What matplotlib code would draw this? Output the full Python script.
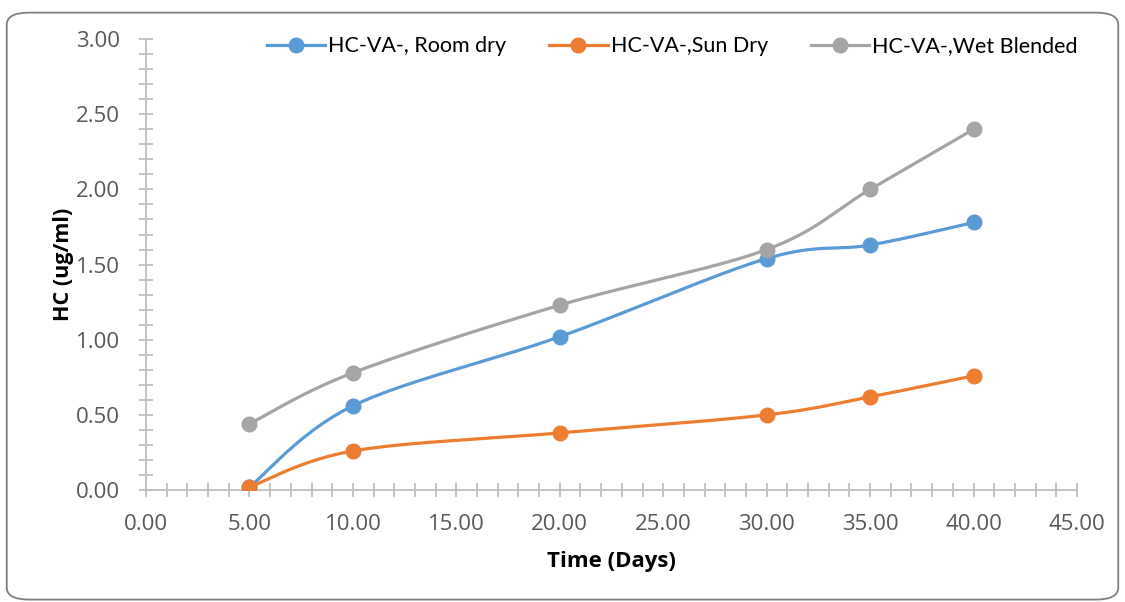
#!/usr/bin/env python3
import numpy as np
import matplotlib
matplotlib.use("Agg")
import matplotlib.pyplot as plt
from matplotlib.patches import FancyBboxPatch
from matplotlib.ticker import MultipleLocator, FormatStrFormatter

days = [5, 10, 20, 30, 35, 40]
room_dry = [0.02, 0.56, 1.02, 1.54, 1.63, 1.78]
sun_dry = [0.02, 0.26, 0.38, 0.50, 0.62, 0.76]
wet_blended = [0.44, 0.78, 1.23, 1.60, 2.00, 2.40]

series = [
    ("HC-VA-, Room dry", room_dry, "#5B9BD5"),
    ("HC-VA-,Sun Dry", sun_dry, "#ED7D31"),
    ("HC-VA-,Wet Blended", wet_blended, "#A5A5A5"),
]

plt.rcParams["font.family"] = ["Open Sans", "DejaVu Sans"]


def smooth_curve(ax, xs, ys, n=40):
    # spreadsheet-style smoothing: cubic bezier with control points at 1/6 of neighbour span,
    # done in screen space and mapped back to data
    pts = ax.transData.transform(np.column_stack([xs, ys]))
    p = np.vstack([pts[0], pts, pts[-1]])
    out = []
    t = np.linspace(0, 1, n)[:, None]
    for i in range(1, len(p) - 2):
        p0, p1, p2, p3 = p[i - 1], p[i], p[i + 1], p[i + 2]
        c1 = p1 + (p2 - p0) / 6.0
        c2 = p2 - (p3 - p1) / 6.0
        seg = ((1 - t) ** 3) * p1 + 3 * ((1 - t) ** 2) * t * c1 + 3 * (1 - t) * t ** 2 * c2 + t ** 3 * p2
        out.append(seg)
    out = np.vstack(out)
    data = ax.transData.inverted().transform(out)
    return data[:, 0], data[:, 1]


fig = plt.figure(figsize=(11.25, 6.02), dpi=100)
ax = fig.add_axes([0.1298, 0.186, 0.8275, 0.749])

ax.set_xlim(0, 45)
ax.set_ylim(0, 3)

for name, vals, col in series:
    sx, sy = smooth_curve(ax, days, vals)
    ax.plot(sx, sy, color=col, lw=2.3, solid_capstyle="round", zorder=2)
    ax.plot(days, vals, ls="none", marker="o", ms=10.5, color=col, zorder=3)
    ax.plot([], [], color=col, lw=2.3, marker="o", ms=10.5, label=name)

ax.xaxis.set_major_locator(MultipleLocator(5))
ax.xaxis.set_minor_locator(MultipleLocator(1))
ax.yaxis.set_major_locator(MultipleLocator(0.5))
ax.yaxis.set_minor_locator(MultipleLocator(0.1))
ax.xaxis.set_major_formatter(FormatStrFormatter("%.2f"))
ax.yaxis.set_major_formatter(FormatStrFormatter("%.2f"))

grey = "#BFBFBF"
for s in ["top", "right"]:
    ax.spines[s].set_visible(False)
for s in ["left", "bottom"]:
    ax.spines[s].set_color(grey)
    ax.spines[s].set_linewidth(1.3)

ax.tick_params(which="both", direction="inout", color=grey, width=1.3,
               labelsize=16, labelcolor="#595959")
ax.tick_params(which="minor", length=10)
ax.tick_params(axis="x", which="major", length=10, pad=12)
ax.tick_params(axis="y", which="major", length=10, pad=14)

ax.set_xlabel("Time (Days)", fontsize=16, fontweight="bold", labelpad=12)
ax.set_ylabel("HC (ug/ml)", fontsize=15.5, fontweight="bold", labelpad=1)

leg = fig.legend(loc="upper left", bbox_to_anchor=(0.22, 0.972), ncol=3, frameon=False,
                 handlelength=2.7, columnspacing=2.0, handletextpad=0.15,
                 prop={"family": ["Lato", "DejaVu Sans"], "size": 15.5})

border = FancyBboxPatch((0.006, 0.004), 0.988, 0.975, boxstyle="round,pad=0,rounding_size=0.02",
                        transform=fig.transFigure, fill=False, edgecolor="#7F7F7F", lw=1.3)
fig.patches.append(border)

fig.savefig("out.png", dpi=100)
plt.close("all")
